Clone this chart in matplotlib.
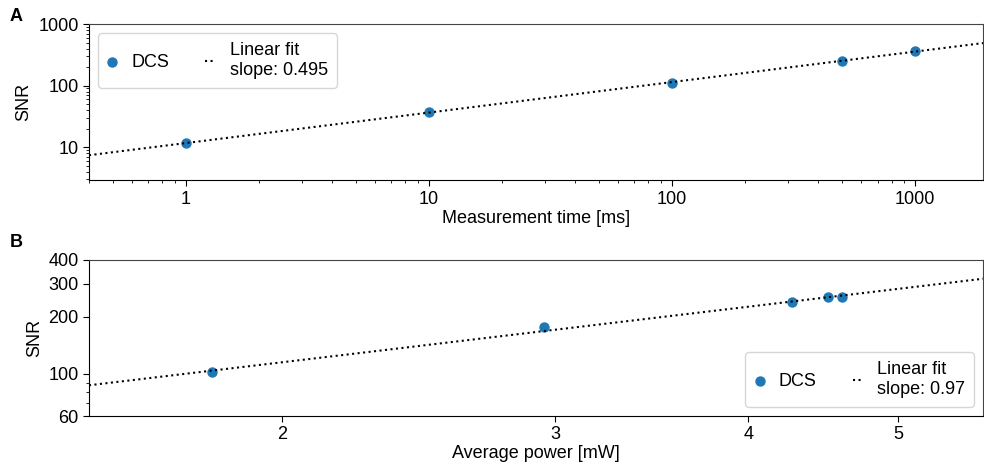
import numpy as np
import matplotlib
matplotlib.use("Agg")
import matplotlib.pyplot as plt
from matplotlib.ticker import FixedLocator, NullFormatter, LogLocator

plt.rcParams['font.family'] = ['Liberation Sans', 'DejaVu Sans']
plt.rcParams['font.size'] = 13

# Panel A: SNR vs measurement time
tiempo_ms = [1, 10, 100, 500, 1000]
snr_a = [11.7, 36.9, 110, 254, 365]
label_a = "Linear fit\nslope: 0.495"

# Panel B: SNR vs average power
potencia_mw = [1.80, 2.95, 4.27, 4.50, 4.60]
snr_b = [102, 176, 239, 256, 254]
label_b = "Linear fit\nslope: 0.97"

azul = '#1f77b4'

fig = plt.figure(figsize=(9.84, 4.73), dpi=100)
ax1 = fig.add_axes([0.0904, 0.619, 0.9086, 0.330])
ax2 = fig.add_axes([0.0904, 0.1205, 0.9086, 0.330])


def ajuste(ax, x, y, xlim, label):
    m, b = np.polyfit(np.log10(x), np.log10(y), 1)
    xx = np.logspace(np.log10(xlim[0]), np.log10(xlim[1]), 200)
    ax.scatter(x, y, s=42, color=azul, zorder=3, label='DCS')
    ax.plot(xx, 10 ** (m * np.log10(xx) + b), ':', color='black', lw=1.5,
            zorder=4, label=label)


leg_kw = dict(ncol=2, handlelength=0.6, fontsize=13, borderpad=0.5,
              columnspacing=2.0, handletextpad=0.75, scatterpoints=1)

# A
xlim_a = (0.4, 1900)
ajuste(ax1, tiempo_ms, snr_a, xlim_a, label_a)
ax1.set_xscale('log')
ax1.set_yscale('log')
ax1.set_xlim(*xlim_a)
ax1.set_ylim(2.9, 1000)
ax1.set_xticks([1, 10, 100, 1000])
ax1.set_xticklabels(['1', '10', '100', '1000'])
ax1.set_yticks([10, 100, 1000])
ax1.set_yticklabels(['10', '100', '1000'])
ax1.xaxis.set_minor_locator(LogLocator(base=10, subs=np.arange(2, 10)))
ax1.yaxis.set_minor_locator(LogLocator(base=10, subs=np.arange(2, 10)))
ax1.xaxis.set_minor_formatter(NullFormatter())
ax1.yaxis.set_minor_formatter(NullFormatter())
ax1.set_xlabel('Measurement time [ms]', labelpad=2)
ax1.set_ylabel('SNR', labelpad=4)
ax1.legend(loc='upper left', **leg_kw)

# B
xlim_b = (1.5, 5.67)
ajuste(ax2, potencia_mw, snr_b, xlim_b, label_b)
ax2.set_xscale('log')
ax2.set_yscale('log')
ax2.set_xlim(*xlim_b)
ax2.set_ylim(60, 400)
ax2.xaxis.set_major_locator(FixedLocator([2, 3, 4, 5]))
ax2.set_xticklabels(['2', '3', '4', '5'])
ax2.xaxis.set_minor_locator(FixedLocator([]))
ax2.yaxis.set_major_locator(FixedLocator([60, 100, 200, 300, 400]))
ax2.set_yticklabels(['60', '100', '200', '300', '400'])
ax2.yaxis.set_minor_locator(FixedLocator([70, 80, 90]))
ax2.yaxis.set_minor_formatter(NullFormatter())
ax2.set_xlabel('Average power [mW]', labelpad=1)
ax2.set_ylabel('SNR', labelpad=4)
ax2.legend(loc='lower right', **leg_kw)

for ax in (ax1, ax2):
    ax.tick_params(which='major', length=4, labelsize=13)
    ax.tick_params(which='minor', length=2)
    for s in ('top', 'right'):
        ax.spines[s].set_color('#444444')

fig.text(0.010, 0.955, 'A', fontsize=13, fontweight='bold')
fig.text(0.010, 0.478, 'B', fontsize=13, fontweight='bold')

fig.savefig('out.png', dpi=100)
